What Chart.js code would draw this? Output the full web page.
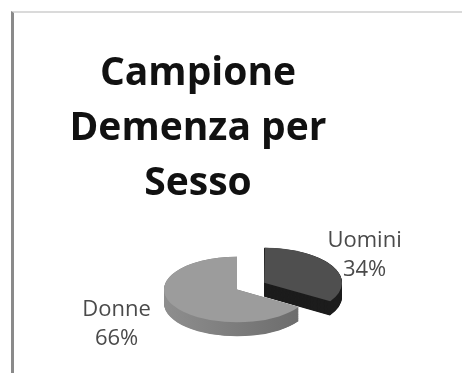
<!DOCTYPE html>
<html>
<head>
<meta charset="utf-8">
<script src="https://cdn.jsdelivr.net/npm/chart.js@4.4.1/dist/chart.umd.min.js"></script>
<style>
  html, body { margin: 0; padding: 0; background: #fff; }
  #wrap { position: relative; width: 462px; height: 373px; overflow: hidden; }
  #frame {
    position: absolute; left: 11px; top: 11px; right: -4px; bottom: -4px;
    border-left: 3px solid #8a8a8a; border-top: 2px solid #dadada;
  }
  canvas { position: absolute; left: 0; top: 0; }
</style>
</head>
<body>
<div id="wrap">
  <div id="frame"></div>
  <canvas id="pieChart" width="462" height="373"></canvas>
</div>
<script>
var categories = ['Uomini', 'Donne'];
var shares     = [34, 66];
var titleLines = ['Campione', 'Demenza per', 'Sesso'];

var topColors  = ['#4f4f4f', '#9c9c9c'];
var sideColors = ['#1d1d1d', null];   // null -> shaded gradient

var TILT  = 0.45;  // vertical squash of the disc
var DEPTH = 14;    // disc thickness in px
var LABEL_GAP = 53;
var LABEL_SHIFT_X = -10;

// outline of one slice, same geometry the arc element uses when it draws
function slicePath(ctx, arc, dy) {
    var p    = arc.getProps(['x', 'y', 'startAngle', 'endAngle', 'outerRadius', 'circumference']);
    var off  = (arc.options.offset || 0) / 4;
    var half = (p.startAngle + p.endAngle) / 2;
    var fix  = 1 - Math.sin(Math.min(Math.PI, p.circumference || 0));
    var ox   = p.x + Math.cos(half) * off;
    var oy   = p.y + Math.sin(half) * off + dy;
    ctx.beginPath();
    ctx.moveTo(ox, oy);
    ctx.arc(ox, oy, p.outerRadius + off * fix, p.startAngle, p.endAngle);
    ctx.closePath();
}

var pie3d = {
    id: 'pie3d',
    beforeDatasetsDraw: function(chart) {
        var ctx  = chart.ctx;
        var arcs = chart.getDatasetMeta(0).data;
        var cx   = arcs[0].x, cy = arcs[0].y, r = arcs[0].outerRadius;

        var grad = ctx.createLinearGradient(cx - r, 0, cx + r, 0);
        grad.addColorStop(0, '#8e8e8e');
        grad.addColorStop(1, '#6a6a6a');

        ctx.save();
        ctx.translate(0, cy);
        ctx.scale(1, TILT);
        ctx.translate(0, -cy);

        // walls of the disc, stacked from the bottom up
        for (var d = DEPTH / TILT; d > 0; d -= 1) {
            arcs.forEach(function(arc, i) {
                ctx.fillStyle = sideColors[i] || grad;
                slicePath(ctx, arc, d);
                ctx.fill();
            });
        }
    },
    afterDatasetsDraw: function(chart) {
        chart.ctx.restore();
    },
    afterDraw: function(chart) {
        var ctx  = chart.ctx;
        var arcs = chart.getDatasetMeta(0).data;
        var cy   = arcs[0].y;

        ctx.save();
        ctx.fillStyle = '#111';
        ctx.textAlign = 'center';
        ctx.textBaseline = 'alphabetic';
        ctx.font = 'bold 39px "Open Sans"';
        titleLines.forEach(function(line, i) {
            ctx.fillText(line, 198, 85 + i * 55);
        });

        // data labels outside each slice
        ctx.font = '22px "Open Sans"';
        ctx.fillStyle = '#4a4a4a';
        ctx.textBaseline = 'middle';
        var total = shares.reduce(function(a, b) { return a + b; }, 0);
        arcs.forEach(function(arc, i) {
            var half = (arc.startAngle + arc.endAngle) / 2;
            var dist = (arc.options.offset || 0) / 4 + arc.outerRadius + LABEL_GAP;
            var x = arc.x + Math.cos(half) * dist + LABEL_SHIFT_X;
            var y = cy + Math.sin(half) * dist * TILT;
            if (Math.sin(half) > 0) y += DEPTH / 2;
            var pct = Math.round(shares[i] / total * 100) + '%';
            ctx.fillText(categories[i], x, y - 14.5);
            ctx.fillText(pct, x, y + 14.5);
        });
        ctx.restore();
    }
};

new Chart(document.getElementById('pieChart'), {
    type: 'pie',
    data: {
        labels: categories,
        datasets: [{
            data: shares,
            backgroundColor: topColors,
            hoverBackgroundColor: topColors,
            borderWidth: 0,
            offset: [124, 0],
            clip: false
        }]
    },
    options: {
        responsive: false,
        animation: false,
        events: [],
        radius: 73,
        layout: { padding: { left: 12, right: 0, top: 206, bottom: 0 } },
        plugins: {
            legend: { display: false },
            tooltip: { enabled: false },
            title: { display: false }
        }
    },
    plugins: [pie3d]
});
</script>
</body>
</html>
